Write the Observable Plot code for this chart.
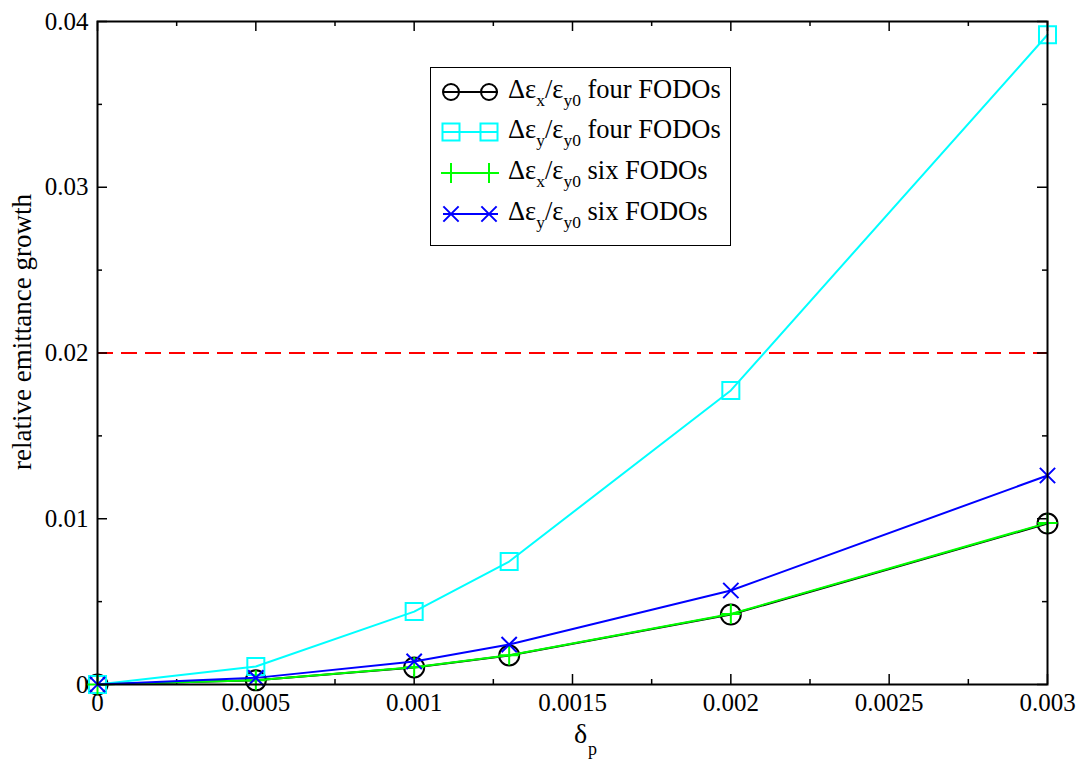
<!DOCTYPE html>
<html><head><meta charset="utf-8">
<script src="https://cdn.jsdelivr.net/npm/d3@7"></script>
<script src="https://cdn.jsdelivr.net/npm/@observablehq/plot@0.6"></script>
<style>
html,body{margin:0;padding:0;background:#fff;}
#wrap{position:relative;width:1082px;height:763px;font-family:"Liberation Serif","Times New Roman",serif;}
#wrap svg.plot{position:absolute;left:0;top:0;}
#legend{position:absolute;left:430px;top:67px;width:299px;height:177px;border:1.5px solid #000;background:#fff;}
.row{position:absolute;left:0;height:30px;width:299px;}
.row svg{position:absolute;left:0;top:0;}
.lab{position:absolute;left:77px;top:-3px;font-size:26.5px;line-height:30px;white-space:nowrap;color:#000;font-family:"Liberation Serif",serif;}
.sub{font-size:0.66em;position:relative;top:0.45em;}
</style></head><body>
<div id="wrap"></div>
<script>
// ---- data ----
const deltaP = [0, 0.0005, 0.001, 0.0013, 0.002, 0.003];
const dexFour = [0, 0.00025, 0.00103, 0.00175, 0.00422, 0.00971];
const deyFour = [0, 0.00109, 0.0044, 0.00742, 0.01774, 0.0392];
const dexSix  = [0, 0.00026, 0.00104, 0.00177, 0.00425, 0.00975];
const deySix  = [0, 0.0004, 0.00139, 0.00241, 0.00567, 0.01261];
const threshold = 0.02;
const xMajor = [0, 0.0005, 0.001, 0.0015, 0.002, 0.0025, 0.003];
const xTickLabels = ["0", "0.0005", "0.001", "0.0015", "0.002", "0.0025", "0.003"];
const xMinor = [0.00025, 0.00075, 0.00125, 0.00175, 0.00225, 0.00275];
const yMajor = [0, 0.01, 0.02, 0.03, 0.04];
const yTickLabels = ["0", "0.01", "0.02", "0.03", "0.04"];
const yMinor = [0.005, 0.015, 0.025, 0.035];
const seriesSub = [["x","y0"],["y","y0"],["x","y0"],["y","y0"]];
const seriesTail = ["four FODOs","four FODOs","six FODOs","six FODOs"];
const seriesColor = ["#000000","#00ffff","#00ff00","#0000ff"];
const seriesSymbol = ["circle","square","plus","times"];
const seriesR = [10, 9.6, 6.5, 7];
const seriesValues = [dexFour, deyFour, dexSix, deySix];

// ---- layout ----
const W = 1082, H = 763, mL = 97, mR = 35, mT = 21, mB = 79;
const pW = W - mL - mR, pH = H - mT - mB;
const FONT = "'Liberation Serif', serif";

const marks = [
  Plot.ruleY([threshold], {stroke: "#ff0000", strokeWidth: 2, strokeDasharray: "16,8"}),
  Plot.tickX(xMajor, {x: d => d, insetTop: pH - 10, strokeWidth: 1.5}),
  Plot.tickX(xMajor, {x: d => d, insetBottom: pH - 10, strokeWidth: 1.5}),
  Plot.tickX(xMinor, {x: d => d, insetTop: pH - 5, strokeWidth: 1.5}),
  Plot.tickX(xMinor, {x: d => d, insetBottom: pH - 5, strokeWidth: 1.5}),
  Plot.tickY(yMajor, {y: d => d, insetRight: pW - 10, strokeWidth: 1.5}),
  Plot.tickY(yMajor, {y: d => d, insetLeft: pW - 10, strokeWidth: 1.5}),
  Plot.tickY(yMinor, {y: d => d, insetRight: pW - 5, strokeWidth: 1.5}),
  Plot.tickY(yMinor, {y: d => d, insetLeft: pW - 5, strokeWidth: 1.5}),
  Plot.axisX(xMajor, {tickSize: 0, tickPadding: 9, label: null, fontSize: 25, fontFamily: FONT,
    tickFormat: d => xTickLabels[xMajor.indexOf(d)]}),
  Plot.axisY(yMajor, {tickSize: 0, tickPadding: 9, label: null, fontSize: 25, fontFamily: FONT,
    tickFormat: d => yTickLabels[yMajor.indexOf(d)]}),
  Plot.text(["relative emittance growth"], {frameAnchor: "left", textAnchor: "middle", rotate: -90, dx: -75, dy: -21, fontSize: 27, fontFamily: FONT}),
  Plot.text(["δ"], {frameAnchor: "bottom", dx: 8, dy: 58, fontSize: 28, fontFamily: FONT}),
  Plot.text(["p"], {frameAnchor: "bottom", dx: 20, dy: 70, fontSize: 18, fontFamily: FONT})
];
seriesValues.forEach((vals, s) => {
  const data = deltaP.map((x, i) => ({x, y: vals[i]}));
  marks.push(Plot.line(data, {x: "x", y: "y", stroke: seriesColor[s], strokeWidth: 2}));
  marks.push(Plot.dot(data, {x: "x", y: "y", symbol: seriesSymbol[s], r: seriesR[s],
    stroke: seriesColor[s], strokeWidth: 2, fill: "none"}));
});
marks.push(Plot.frame({stroke: "#000", strokeWidth: 2}));

const chart = Plot.plot({
  width: W, height: H, marginLeft: mL, marginRight: mR, marginTop: mT, marginBottom: mB,
  x: {domain: [0, 0.003]},
  y: {domain: [0, 0.04]},
  style: {fontFamily: FONT, color: "#000", background: "#fff", overflow: "visible"},
  marks
});
const wrap = document.getElementById("wrap");
wrap.appendChild(chart);

// ---- legend ----
const legend = document.createElement("div");
legend.id = "legend";
const rowY = [9, 49, 90, 131];
const symMap = {circle: d3.symbolCircle, square: d3.symbolSquare, plus: d3.symbolPlus, times: d3.symbolTimes};
seriesColor.forEach((c, s) => {
  const row = document.createElement("div");
  row.className = "row";
  row.style.top = rowY[s] + "px";
  const rr = seriesSymbol[s] === "circle" ? 8 : seriesR[s];
  const sym = d3.symbol(symMap[seriesSymbol[s]], Math.PI * rr * rr);
  const ns = "http://www.w3.org/2000/svg";
  const svg = document.createElementNS(ns, "svg");
  svg.setAttribute("width", 76); svg.setAttribute("height", 30);
  const line = document.createElementNS(ns, "line");
  line.setAttribute("x1", 12); line.setAttribute("x2", 67);
  line.setAttribute("y1", 15); line.setAttribute("y2", 15);
  line.setAttribute("stroke", c); line.setAttribute("stroke-width", 2);
  svg.appendChild(line);
  [20, 58].forEach(px => {
    const p = document.createElementNS(ns, "path");
    p.setAttribute("d", sym());
    p.setAttribute("transform", `translate(${px},15)`);
    p.setAttribute("fill", "none"); p.setAttribute("stroke", c); p.setAttribute("stroke-width", 2);
    svg.appendChild(p);
  });
  row.appendChild(svg);
  const lab = document.createElement("div");
  lab.className = "lab";
  lab.innerHTML = `Δε<span class="sub">${seriesSub[s][0]}</span>/ε<span class="sub">${seriesSub[s][1]}</span> ${seriesTail[s]}`;
  row.appendChild(lab);
  legend.appendChild(row);
});
wrap.appendChild(legend);
</script>
</body></html>
